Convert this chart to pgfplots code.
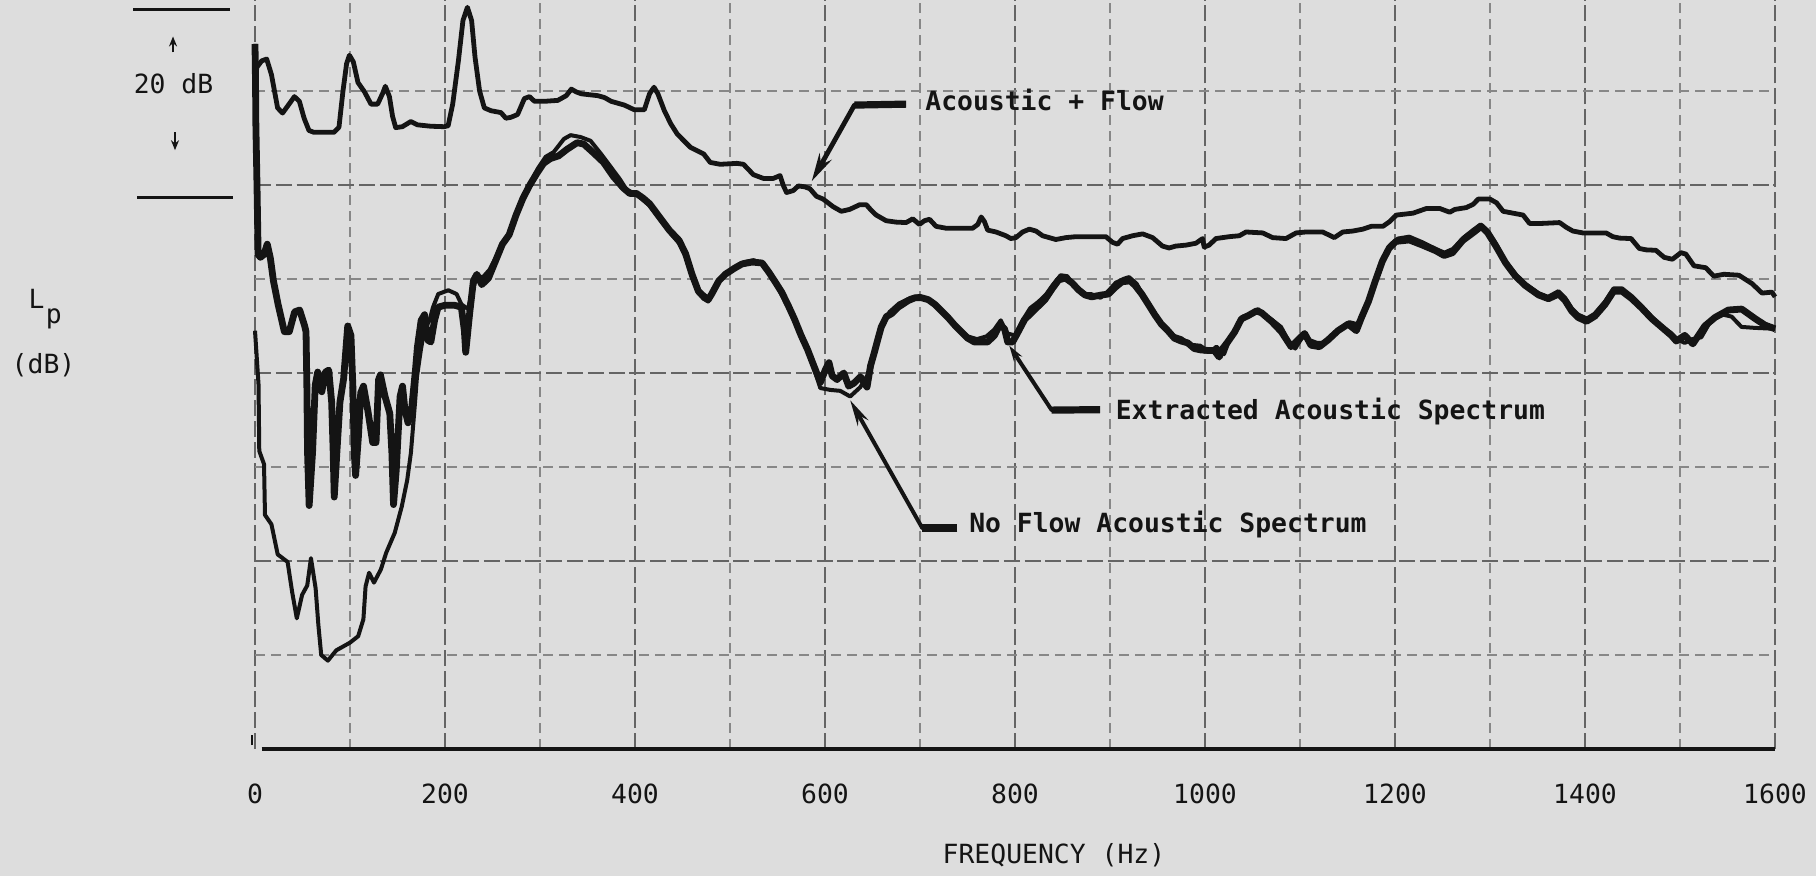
\documentclass[border=0pt]{standalone}
\usepackage{fontspec}
\setmainfont{DejaVu Sans Mono}
\newfontfamily\labfont{DejaVu Sans Mono}
\usepackage{pgfplots}
\pgfplotsset{compat=1.18}
\usetikzlibrary{arrows.meta}
\definecolor{paper}{RGB}{221,221,221}
\definecolor{ink}{RGB}{20,20,20}
\definecolor{gridmaj}{RGB}{100,100,100}
\definecolor{gridmin}{RGB}{135,135,135}
\newcommand{\lab}{\labfont\fontsize{6.6pt}{7.5pt}\selectfont}
\newcommand{\labb}{\labfont\bfseries\fontsize{6.6pt}{7.5pt}\selectfont}

\begin{document}
\begin{tikzpicture}
\useasboundingbox (0,0) rectangle (454pt,219pt);
\fill[paper] (0,0) rectangle (454pt,219pt);
\begin{axis}[
  at={(63.75pt,31.75pt)}, anchor=south west,
  scale only axis, width=380pt, height=187.3pt,
  xmin=0, xmax=1600, ymin=0, ymax=79.7,
  xtick={0,200,...,1600},
  xticklabels={0,200,400,600,800,1000,1200,1400,1600},
  minor xtick={100,300,...,1500},
  ytick={20,40,60}, minor ytick={10,30,50,70},
  yticklabels={},
  grid=both,
  major grid style={gridmaj, line width=0.4pt, dash pattern=on 4pt off 1.2pt},
  minor grid style={gridmin, line width=0.35pt, dash pattern=on 2.5pt off 1.5pt},
  axis line style={draw=none},
  major tick length=0pt, minor tick length=0pt,
  xticklabel style={font=\lab, text=ink, anchor=center, yshift=-11.25pt},
  clip=false,
]

% frequency axis line and the small mark at its start
\draw[ink, line width=1.1pt] (axis cs:7,0) -- (axis cs:1600,0);
\draw[ink, line width=0.5pt] (axis cs:-3.5,0.4) -- (axis cs:-3.5,1.5);

% Acoustic + Flow
\addplot[ink, line width=1.2pt, line join=round] coordinates {
(0,75.0) (0.6,70.4) (1.8,72.5) (7.0,73.2) (12.3,73.4) (17.3,71.75) (23.8,68.2)
(29.0,67.65) (34.4,68.4) (41.5,69.4) (46.7,68.9) (51.7,67.1) (56.8,65.8) (62.1,65.6)
(72.6,65.6) (83.1,65.6) (88.4,66.15) (92.5,69.9) (96.4,72.9) (99.4,73.8) (103.5,73.1)
(108.4,70.9) (115.3,69.9) (122.1,68.6) (129.1,68.6) (134.6,69.8) (137.2,70.5) (141.5,69.4)
(144.8,67.3) (148.1,66.1) (155.1,66.2) (164.0,66.75) (170.9,66.4) (184.9,66.25) (199.0,66.2)
(203.3,66.3) (208.1,68.6) (214.1,73.2) (218.9,77.5) (223.6,78.9) (228.0,77.5) (231.6,73.6)
(236.4,70.0) (241.4,68.2) (248.4,67.9) (258.9,67.7) (264.1,67.1) (269.4,67.2) (276.4,67.5)
(283.6,69.2) (289.0,69.4) (294.2,68.9) (304.7,68.9) (318.7,69.0) (327.6,69.5) (333.0,70.2)
(338.1,69.9) (343.4,69.7) (360.9,69.5) (367.9,69.3) (374.9,68.9) (388.8,68.5) (399.3,68.0)
(409.8,68.0) (415.3,69.7) (420.0,70.4) (424.1,69.7) (430.9,67.9) (437.7,66.5) (444.6,65.4)
(458.4,64.0) (472.3,63.3) (479.2,62.4) (489.7,62.2) (507.3,62.3) (514.2,62.2) (524.6,61.1)
(535.1,60.7) (545.6,60.7) (552.7,61.0) (556.1,59.95) (559.5,59.2) (566.5,59.4) (571.9,59.9)
(578.8,59.8) (584.1,59.6) (591.0,58.8) (598.0,58.5) (608.4,57.7) (617.1,57.2) (625.9,57.4)
(636.5,57.9) (643.5,57.9) (648.7,57.3) (653.9,56.8) (664.3,56.2) (674.8,56.05) (685.3,56.0)
(692.4,56.4) (699.4,55.8) (704.7,56.2) (710.0,56.35) (716.9,55.6) (727.4,55.4) (741.4,55.4)
(755.4,55.4) (760.8,55.8) (764.4,56.6) (767.8,56.1) (771.2,55.2) (780.0,55.0) (790.4,54.6)
(795.6,54.3) (800.9,54.4) (808.0,55.0) (815.1,55.3) (822.1,55.1) (829.0,54.6) (836.0,54.4)
(843.0,54.2) (853.5,54.4) (864.1,54.5) (885.2,54.5) (895.7,54.5) (902.6,53.9) (907.9,53.7)
(913.2,54.3) (923.8,54.6) (934.3,54.8) (944.8,54.4) (955.2,53.5) (962.2,53.3) (969.2,53.5)
(979.8,53.6) (990.4,53.8) (997.4,54.3) (999.1,53.4) (1004.3,53.6) (1011.5,54.3) (1025.5,54.5)
(1036.1,54.6) (1043.2,55.0) (1060.7,54.9) (1071.2,54.4) (1085.2,54.3) (1095.9,54.9) (1106.4,55.0)
(1123.9,55.0) (1136.1,54.4) (1145.0,55.0) (1155.5,55.1) (1166.1,55.3) (1174.9,55.6) (1187.2,55.6)
(1194.3,56.1) (1201.4,56.8) (1218.9,57.0) (1233.1,57.5) (1247.1,57.5) (1257.6,57.1) (1262.9,57.4)
(1275.2,57.6) (1282.3,57.95) (1287.6,58.5) (1299.9,58.5) (1306.9,58.1) (1313.8,57.2) (1324.3,57.0)
(1334.8,56.8) (1341.7,55.9) (1352.2,55.9) (1373.3,56.0) (1380.2,55.5) (1387.2,55.1) (1397.7,54.9)
(1408.2,54.9) (1422.2,54.9) (1429.2,54.5) (1436.2,54.35) (1448.5,54.3) (1457.1,53.25) (1464.1,53.1)
(1474.6,53.05) (1483.3,52.3) (1492.0,52.1) (1500.9,52.8) (1506.1,52.65) (1514.7,51.4) (1527.0,51.2)
(1535.6,50.3) (1546.2,50.5) (1562.0,50.4) (1575.9,49.5) (1586.3,48.5) (1596.8,48.6) (1600,48.1)
};

% No Flow Acoustic Spectrum
\addplot[ink, line width=1.0pt, line join=round] coordinates {
(0,44.5) (3.7,38.8) (4.5,31.7) (9.5,30.3) (10.5,24.9) (17.3,23.9) (23.9,20.7) (34.3,19.9)
(39.1,16.7) (44.0,13.9) (49.6,16.4) (55.0,17.4) (58.9,20.3) (63.8,17.1) (66.7,13.2) (69.7,10.0)
(76.7,9.4) (85.6,10.5) (99.8,11.3) (108.6,12.0) (114.1,13.8) (116.4,17.3) (120.1,18.75) (125.2,17.7)
(132.5,19.1) (138.0,20.85) (147.1,23.0) (154.5,25.8) (160.2,28.6) (164.1,31.5) (168.4,36.8)
(170.5,39.6) (174.5,42.4) (178.3,44.6) (183.7,45.6) (187.4,47.0) (192.9,48.4) (203.5,48.8)
(212.2,48.4) (217.3,47.3) (224.2,46.8) (227.9,48.4) (233.5,50.3) (240,50.2) (247,51.0) (253,52.2)
(260,53.6) (268,55.0) (275,57.0) (282,58.8) (290,60.3) (298,61.8) (306,63.0) (314.4,63.5)
(325.2,64.9) (332.2,65.3) (342.7,65.1) (353.2,64.7) (363.5,63.4) (373.9,62.0) (384.2,60.6)
(391.1,59.5) (401.5,59.0) (408.5,58.4) (415.4,57.8) (425.7,56.4) (436.1,55.0) (446.4,53.8)
(453.2,52.4) (460.0,50.2) (466.7,48.5) (472.0,47.9) (477.1,47.6) (482,48.6) (490,50.0) (497,50.6)
(507,51.3) (515,51.8) (525,52.0) (535,51.6) (542,50.5) (549,49.3) (556,48.0) (563,46.6) (570,45.0)
(577,43.4) (584,41.8) (590,40.0) (595.0,38.4) (605.5,38.2) (616.0,38.1) (626.5,37.5) (637.2,38.5)
(647.9,40.3) (655.4,43.5) (661,45.3) (668,46.5) (678,47.4) (690,48.0) (700,48.2) (710,47.6)
(720,46.8) (730,45.8) (740,44.8) (750,43.9) (760,43.6) (770,43.9) (778,44.6) (785,45.6) (792,44.2)
(800,44.0) (808,45.6) (816,46.9) (825,47.6) (833,48.4) (840,49.4) (848,50.4) (855,50.3) (862,49.3)
(870,48.4) (880,48.4) (890,48.0) (898,48.7) (906,49.6) (914,50.0) (920,50.2) (928,49.5) (935,48.2)
(942,47.0) (950,45.8) (958,44.8) (966,44.0) (975,43.7) (985,43.0) (995,42.9) (1005,42.2)
(1012,42.8) (1020,42.0) (1026,43.6) (1033,44.8) (1040,46.0) (1048,46.3) (1056,46.8) (1062,46.2)
(1070,45.7) (1080,44.9) (1088,43.4) (1095,42.6) (1103,43.9) (1110,43.5) (1118,43.2) (1126,43.2)
(1135,44.0) (1143,44.8) (1152,45.4) (1160,45.2) (1166,46.2) (1173,48.0) (1180,50.2) (1188,52.2)
(1195,53.6) (1203,54.3) (1215,54.5) (1229,53.9) (1243,53.2) (1252,52.8) (1261,53.2) (1272,54.4)
(1282,55.2) (1290,55.8) (1297,55.2) (1306,53.8) (1316,51.9) (1327,50.5) (1337,49.5) (1351,48.5)
(1361,48.1) (1372,48.7) (1379,48.0) (1386,46.9) (1393,46.2) (1402,45.8) (1410,46.3) (1421,47.6)
(1430,49.0) (1439,49.0) (1449,48.2) (1460,47.1) (1470,46.0) (1480,45.0) (1490,44.3) (1497,43.6)
(1505,43.2) (1513,43.6) (1522.4,43.8) (1533.2,45.7) (1545.5,46.2) (1554.3,46.0) (1564.7,44.9)
(1578.7,44.8) (1600,44.7)
};

% Extracted Acoustic Spectrum
\addplot[ink, line width=1.7pt, line join=round] coordinates {
(0,75.0) (0.6,70.4) (0.9,66.5) (2.2,59.4) (3.3,52.6) (5.7,52.3) (9.3,52.6) (12.9,53.7) (16.2,52.2)
(19.4,49.8) (24.3,47.3) (30.9,44.4) (36.1,44.4) (41.7,46.5) (47.0,46.7) (52.0,45.1) (53.7,44.4)
(54.6,38.7) (55.3,31.6) (57.0,25.9) (60.6,31.6) (63.4,38.7) (66.0,40.1) (70.3,38.0) (74.1,40.1)
(77.6,40.3) (80.7,36.9) (82.3,31.6) (83.4,26.8) (86.2,31.6) (89.4,36.9) (93.3,39.4) (97.6,45.0)
(101.0,44.0) (103.0,38.6) (104.5,31.5) (105.9,29.1) (108.9,33.3) (111.3,37.9) (114.2,38.6)
(119.1,35.8) (123.9,32.6) (127.4,32.6) (130.1,39.3) (132.0,39.8) (136.9,37.5) (141.9,35.7)
(144.1,31.5) (145.8,26.0) (148.7,29.7) (152.7,37.5) (155.3,38.6) (157.8,36.1) (161.1,34.7)
(164.8,36.1) (168.9,40.3) (171.0,42.8) (174.9,45.6) (178.5,46.2) (181.7,43.5) (185.1,43.3)
(189.0,45.6) (192.7,47.0) (199.7,47.2) (210.2,47.2) (217.2,47.0) (220.4,44.5) (221.8,42.2)
(225.9,46.3) (229.9,49.8) (233.5,50.5) (238.7,49.4) (245.8,50.1) (253.1,51.9) (260.4,53.7)
(267.5,54.7) (274.8,56.8) (282.1,58.6) (289.3,60.0) (296.5,61.2) (303.7,62.3) (310.8,62.8)
(319.6,63.1) (328.5,63.8) (339.1,64.5) (346.1,64.35) (356.5,63.4) (366.9,62.4) (377.2,60.9)
(387.5,59.7) (394.5,59.1) (401.5,59.1) (408.5,58.6) (415.4,58.0) (425.7,56.6) (436.1,55.2)
(446.4,54.1) (453.2,52.7) (460.0,50.5) (466.7,48.7) (472.0,48.2) (477.1,47.8) (480.7,48.4)
(488.2,49.8) (495.0,50.5) (505.6,51.2) (512.7,51.6) (523.3,51.8) (533.8,51.7) (540.7,50.75)
(547.5,49.7) (554.4,48.6) (561.2,47.2) (568.0,45.7) (574.8,44.0) (581.6,42.5) (588.3,40.75)
(595.1,39.0) (600.6,40.4) (604.2,41.1) (607.5,39.7) (612.7,39.3) (619.8,40.0) (624.9,38.6)
(630.2,38.9) (637.3,39.6) (644.2,38.5) (648.0,40.8) (651.7,42.1) (655.4,43.5) (659.2,44.9)
(664.6,46.0) (669.9,46.3) (677.0,47.0) (687.6,47.7) (694.7,48.0) (701.7,48.0) (708.7,47.8)
(715.6,47.3) (722.6,46.6) (729.5,45.9) (736.4,45.1) (743.3,44.4) (750.2,43.7) (757.2,43.3)
(764.2,43.3) (771.2,43.3) (778.3,44.0) (783.8,45.1) (789.0,44.7) (792.3,43.3) (797.5,43.3)
(802.9,44.3) (810.2,45.7) (817.3,46.4) (824.4,47.1) (831.5,47.8) (838.7,48.9) (845.9,49.9)
(853.0,50.1) (859.9,49.6) (866.8,48.85) (873.7,48.3) (880.7,48.1) (891.3,48.3) (898.3,48.4)
(905.4,49.1) (912.5,49.7) (921.3,49.8) (926.5,49.3) (933.4,48.4) (940.3,47.3) (947.1,46.2)
(954.0,45.2) (960.9,44.5) (967.8,43.7) (974.8,43.4) (981.8,43.2) (988.7,42.6) (995.7,42.45)
(1002.7,42.4) (1009.7,42.4) (1014.9,41.7) (1018.6,42.6) (1023.9,43.3) (1031.1,44.35) (1038.3,45.75)
(1045.4,46.1) (1054.2,46.6) (1059.5,46.4) (1069.9,45.5) (1080.3,44.4) (1090.6,42.8) (1097.7,43.5)
(1104.8,44.2) (1111.6,42.95) (1120.4,42.8) (1129.3,43.5) (1140.0,44.5) (1150.6,45.2) (1159.3,44.5)
(1164.7,45.9) (1172.0,47.6) (1179.3,49.8) (1186.7,51.9) (1193.9,53.3) (1201.0,54.0) (1215.1,54.15)
(1229.0,53.6) (1243.0,53.0) (1251.7,52.5) (1260.5,52.8) (1271.2,54.1) (1281.9,54.9) (1290.7,55.6)
(1297.6,54.9) (1306.2,53.5) (1316.5,51.7) (1326.8,50.3) (1337.2,49.3) (1351.1,48.3) (1361.5,47.9)
(1372.2,48.4) (1379.1,47.7) (1385.9,46.6) (1392.8,45.9) (1401.6,45.5) (1410.4,46.05) (1421.1,47.3)
(1430.1,48.7) (1438.9,48.7) (1449.3,47.9) (1459.7,46.9) (1470.0,45.8) (1480.4,44.9) (1490.8,44.0)
(1496.0,43.4) (1504.9,44.0) (1513.5,43.1) (1526.1,45.0) (1536.7,45.9) (1550.9,46.7) (1564.9,46.8)
(1578.8,45.8) (1589.3,45.1) (1600,44.7)
};

% curve labels with leader arrows
\node[anchor=base west, inner sep=0, font=\labb, text=ink] at (axis cs:704.8,67.9) {Acoustic + Flow};
\draw[ink, line width=1.8pt] (axis cs:685.4,68.6) -- (axis cs:631,68.5);
\draw[ink, line width=1.2pt, line join=round, -{Stealth[length=7pt,width=3.4pt]}]
  (axis cs:634,68.55) -- (axis cs:631,68.5) -- (axis cs:586,60.4);

\node[anchor=base west, inner sep=0, font=\labb, text=ink] at (axis cs:905.3,35.0) {Extracted Acoustic Spectrum};
\draw[ink, line width=1.8pt] (axis cs:889.5,36.1) -- (axis cs:838.6,36.05);
\draw[ink, line width=1.0pt, line join=round, -{Stealth[length=4pt,width=2.4pt]}]
  (axis cs:841,36.05) -- (axis cs:838.6,36.05) -- (axis cs:794,42.9);

\node[anchor=base west, inner sep=0, font=\labb, text=ink] at (axis cs:751,23.0) {No Flow Acoustic Spectrum};
\draw[ink, line width=1.8pt] (axis cs:739.2,23.5) -- (axis cs:702.4,23.5);
\draw[ink, line width=1.0pt, line join=round, -{Stealth[length=6.5pt,width=3pt]}]
  (axis cs:705,23.5) -- (axis cs:702.4,23.5) -- (axis cs:626.5,37.1);

% 20 dB scale marker
\draw[ink, line width=0.7pt] (axis cs:-128,78.7) -- (axis cs:-26,78.7);
\draw[ink, line width=0.7pt] (axis cs:-124,58.7) -- (axis cs:-23,58.7);
\draw[ink, line width=0.5pt, -{Stealth[length=2.5pt,width=2pt]}] (axis cs:-86.3,74.1) -- (axis cs:-86.3,75.8);
\draw[ink, line width=0.5pt, -{Stealth[length=2.5pt,width=2pt]}] (axis cs:-84.2,65.6) -- (axis cs:-84.2,63.7);
\node[font=\lab, text=ink] at (axis cs:-85.8,70.8) {20 dB};

% level label
\node[anchor=base west, inner sep=0, font=\lab, text=ink] at (axis cs:-239,46.9) {L};
\node[anchor=base west, inner sep=0, font=\lab, text=ink] at (axis cs:-221,45.3) {p};
\node[font=\lab, text=ink] at (axis cs:-222.6,40.8) {(dB)};

% frequency label
\node[font=\lab, text=ink] at (axis cs:841,-11.3) {FREQUENCY (Hz)};
\end{axis}
\end{tikzpicture}
\end{document}
